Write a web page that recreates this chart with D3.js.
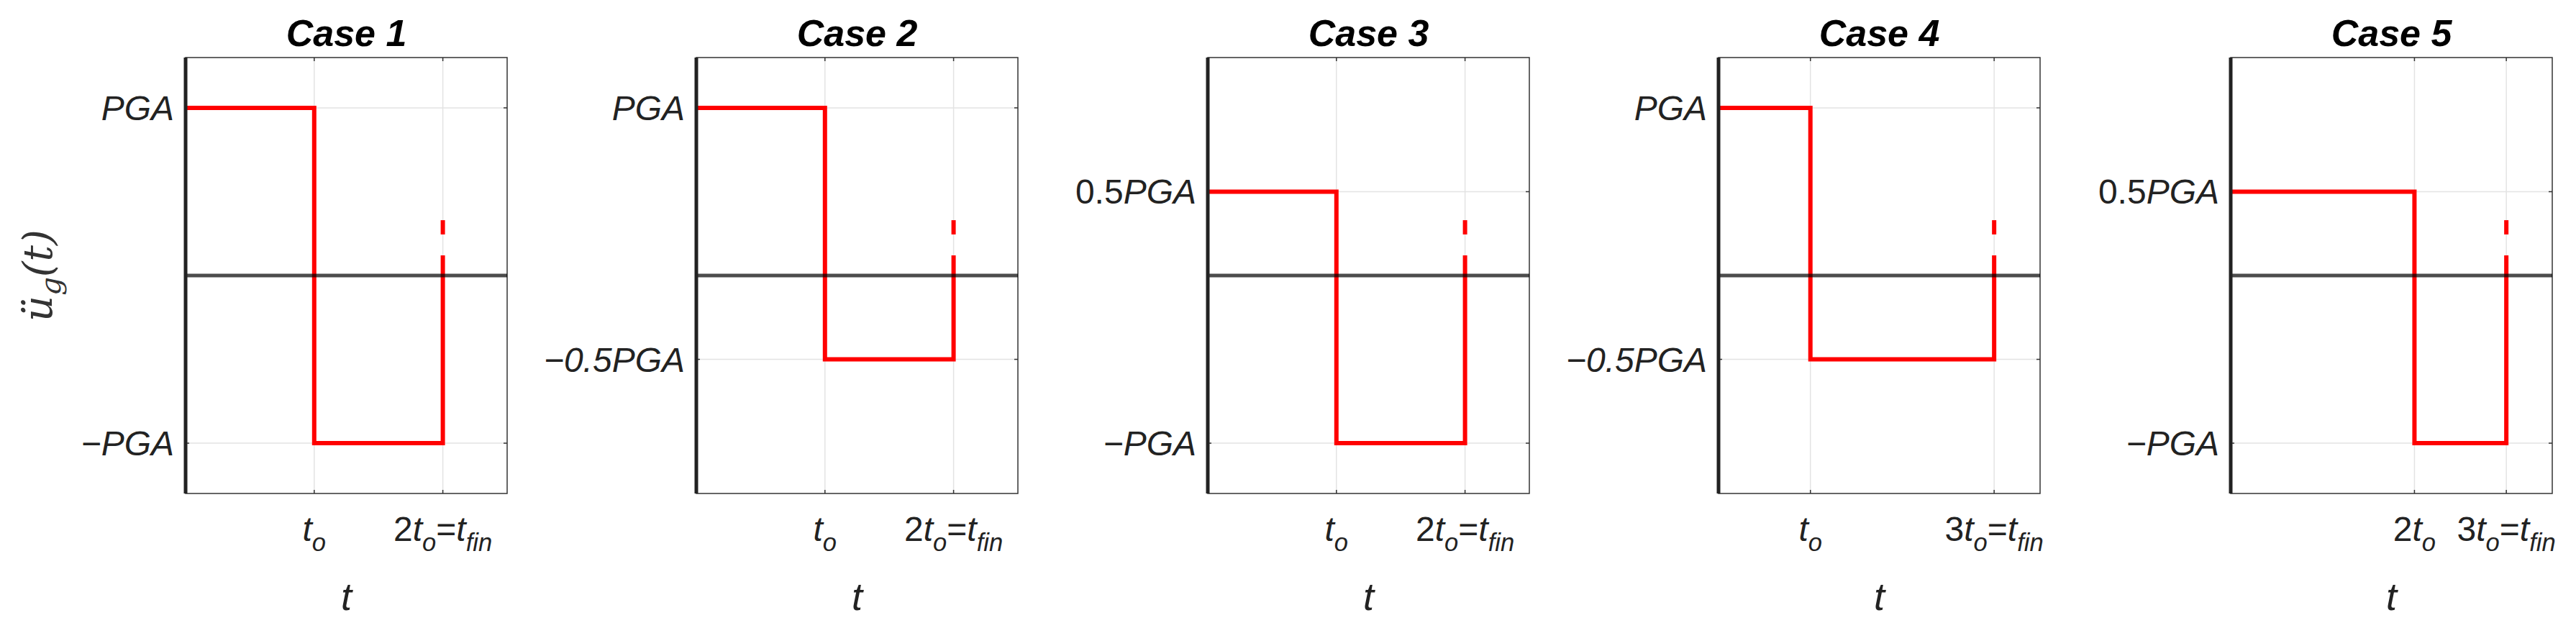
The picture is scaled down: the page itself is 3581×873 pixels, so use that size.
<!DOCTYPE html>
<html>
<head>
<meta charset="utf-8">
<script src="https://cdn.jsdelivr.net/npm/d3@7"></script>
<style>
  body { margin: 0; background: #fff; }
  text { font-family: "Liberation Sans", Arial, sans-serif; }
</style>
</head>
<body>
<script>
// one entry per panel
var titles = ['Case 1', 'Case 2', 'Case 3', 'Case 4', 'Case 5'];
var tMax = [2.5, 2.5, 2.5, 3.5, 3.5];
// step signal: [t, value] corners
var signals = [
  [[0, 1], [1, 1], [1, -1], [2, -1], [2, 0.12]],
  [[0, 1], [1, 1], [1, -0.5], [2, -0.5], [2, 0.12]],
  [[0, 0.5], [1, 0.5], [1, -1], [2, -1], [2, 0.12]],
  [[0, 1], [1, 1], [1, -0.5], [3, -0.5], [3, 0.12]],
  [[0, 0.5], [2, 0.5], [2, -1], [3, -1], [3, 0.12]]
];
var tickDash = [0.245, 0.33]; // short red dash above t_fin
var yTickVals = [[1, -1], [1, -0.5], [0.5, -1], [1, -0.5], [0.5, -1]];
var yTickText = { '1': [['PGA', 'i']], '-1': [['\u2212PGA', 'i']],
  '0.5': [['0.5', 'n'], ['PGA', 'i']], '-0.5': [['\u22120.5PGA', 'i']] };
// x tick labels: list of [text, style] pieces; 'i' italic, 's' italic subscript
var xTicks = [
  [[1, [['t', 'i'], ['o', 's']]], [2, [['2', 'n'], ['t', 'i'], ['o', 's'], ['=', 'n'], ['t', 'i'], ['fin', 's']]]],
  [[1, [['t', 'i'], ['o', 's']]], [2, [['2', 'n'], ['t', 'i'], ['o', 's'], ['=', 'n'], ['t', 'i'], ['fin', 's']]]],
  [[1, [['t', 'i'], ['o', 's']]], [2, [['2', 'n'], ['t', 'i'], ['o', 's'], ['=', 'n'], ['t', 'i'], ['fin', 's']]]],
  [[1, [['t', 'i'], ['o', 's']]], [3, [['3', 'n'], ['t', 'i'], ['o', 's'], ['=', 'n'], ['t', 'i'], ['fin', 's']]]],
  [[2, [['2', 'n'], ['t', 'i'], ['o', 's']]], [3, [['3', 'n'], ['t', 'i'], ['o', 's'], ['=', 'n'], ['t', 'i'], ['fin', 's']]]]
];
var panelLeft = [258, 968, 1679, 2389, 3101];

var W = 3581, H = 873, pw = 447, plotTop = 80, plotBottom = 686;
var fs = 48;
var svg = d3.select('body').append('svg').attr('width', W).attr('height', H);

function addPieces(sel, pieces, size) {
  var sub = false;
  pieces.forEach(function(p) {
    var ts = sel.append('tspan').text(p[0]);
    if (p[1] === 'i') ts.attr('font-style', 'italic');
    if (p[1] === 's') {
      ts.attr('font-style', 'italic').attr('font-size', size * 0.72);
      if (!sub) ts.attr('dy', size * 0.3);
      sub = true;
    } else if (sub) {
      ts.attr('dy', -size * 0.3);
      sub = false;
    }
  });
}

titles.forEach(function(title, i) {
  var x = d3.scaleLinear().domain([0, tMax[i]]).range([panelLeft[i], panelLeft[i] + pw]);
  var y = d3.scaleLinear().domain([-1.3, 1.3]).range([plotBottom, plotTop]);
  var g = svg.append('g');

  var xs = xTicks[i].map(function(d) { return d[0]; });
  // grid
  g.selectAll('.gx').data(xs).enter().append('line')
    .attr('x1', function(d) { return x(d); }).attr('x2', function(d) { return x(d); })
    .attr('y1', plotTop).attr('y2', plotBottom).attr('stroke', '#e3e3e3').attr('stroke-width', 1.5);
  g.selectAll('.gy').data(yTickVals[i]).enter().append('line')
    .attr('y1', function(d) { return y(d); }).attr('y2', function(d) { return y(d); })
    .attr('x1', x(0)).attr('x2', x(tMax[i])).attr('stroke', '#e3e3e3').attr('stroke-width', 1.5);

  // box
  g.append('rect').attr('x', x(0)).attr('y', plotTop).attr('width', pw).attr('height', plotBottom - plotTop)
    .attr('fill', 'none').attr('stroke', '#333').attr('stroke-width', 1.5);
  // tick marks
  xs.forEach(function(d) {
    g.append('line').attr('x1', x(d)).attr('x2', x(d)).attr('y1', plotBottom).attr('y2', plotBottom - 5).attr('stroke', '#333').attr('stroke-width', 1.5);
    g.append('line').attr('x1', x(d)).attr('x2', x(d)).attr('y1', plotTop).attr('y2', plotTop + 5).attr('stroke', '#333').attr('stroke-width', 1.5);
  });
  yTickVals[i].forEach(function(d) {
    g.append('line').attr('x1', x(0)).attr('x2', x(0) + 5).attr('y1', y(d)).attr('y2', y(d)).attr('stroke', '#333').attr('stroke-width', 1.5);
    g.append('line').attr('x1', x(tMax[i])).attr('x2', x(tMax[i]) - 5).attr('y1', y(d)).attr('y2', y(d)).attr('stroke', '#333').attr('stroke-width', 1.5);
  });

  // signal
  var line = d3.line().x(function(d) { return x(d[0]); }).y(function(d) { return y(d[1]); });
  g.append('path').datum(signals[i]).attr('d', line)
    .attr('fill', 'none').attr('stroke', '#ff0000').attr('stroke-width', 6).attr('stroke-linejoin', 'miter');
  var tf = signals[i][signals[i].length - 1][0];
  g.append('line').attr('x1', x(tf)).attr('x2', x(tf)).attr('y1', y(tickDash[0])).attr('y2', y(tickDash[1]))
    .attr('stroke', '#ff0000').attr('stroke-width', 6);

  // zero line and left axis
  g.append('line').attr('x1', x(0)).attr('x2', x(tMax[i])).attr('y1', y(0)).attr('y2', y(0))
    .attr('stroke', '#000').attr('stroke-opacity', 0.7).attr('stroke-width', 5);
  g.append('line').attr('x1', x(0)).attr('x2', x(0)).attr('y1', plotTop).attr('y2', plotBottom)
    .attr('stroke', '#222').attr('stroke-width', 5);

  // y tick labels
  yTickVals[i].forEach(function(d) {
    var t = g.append('text').attr('x', x(0) - 16).attr('y', y(d) + 17)
      .attr('text-anchor', 'end').attr('font-size', fs).attr('fill', '#222');
    addPieces(t, yTickText[String(d)], fs);
  });
  // x tick labels
  xTicks[i].forEach(function(d) {
    var t = g.append('text').attr('x', x(d[0])).attr('y', 752)
      .attr('text-anchor', 'middle').attr('font-size', fs).attr('fill', '#222');
    addPieces(t, d[1], fs);
  });
  // x label
  g.append('text').attr('x', x(0) + pw / 2).attr('y', 848).attr('text-anchor', 'middle')
    .attr('font-size', 54).attr('font-style', 'italic').attr('fill', '#222').text('t');
  // title
  g.append('text').attr('x', x(0) + pw / 2).attr('y', 64).attr('text-anchor', 'middle')
    .attr('font-size', 52).attr('font-weight', 'bold').attr('font-style', 'italic').text(title);
});

// y label
var yl = svg.append('text').attr('transform', 'translate(72,383) rotate(-90)')
  .attr('text-anchor', 'middle').attr('font-size', 56).attr('fill', '#333')
  .style('font-family', '"DejaVu Serif", serif').attr('font-style', 'italic');
yl.append('tspan').text('\u00fc');
yl.append('tspan').text('g').attr('font-size', 40).attr('dy', 12);
yl.append('tspan').text('(t)').attr('dy', -12);
</script>
</body>
</html>
